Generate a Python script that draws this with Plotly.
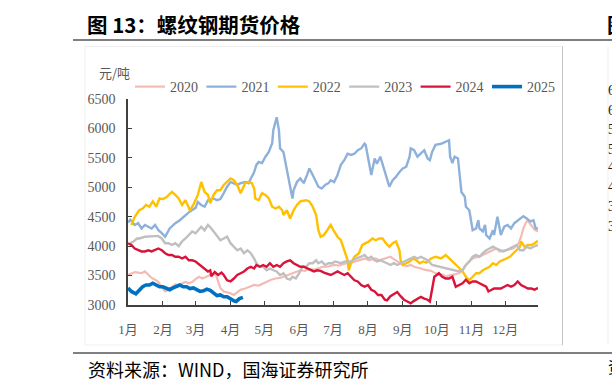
import plotly.graph_objects as go

# ---------------- data ----------------
month_starts = [0, 31, 60, 91, 121, 152, 182, 213, 244, 274, 305, 335]
month_labels = ["1月", "2月", "3月", "4月", "5月", "6月", "7月", "8月", "9月", "10月", "11月", "12月"]
y_ticks = [3000, 3500, 4000, 4500, 5000, 5500, 6000, 6500]

days_2020 = [0, 3, 6, 9, 12, 15, 18, 21, 24, 27,
             30, 33, 36, 39, 42, 45, 48, 51, 54, 57,
             60, 63, 66, 69, 72, 75, 78, 80, 82, 85,
             88, 91, 94, 97, 100, 104, 108, 112, 116, 120,
             124, 127, 131, 135, 139, 142, 146, 150, 153, 157,
             161, 165, 169, 173, 177, 180, 183, 187, 190, 194,
             198, 201, 204, 207, 211, 214, 217, 220, 223, 227,
             230, 233, 236, 239, 242, 245, 248, 251, 254, 257,
             260, 263, 266, 269, 272, 276, 279, 282, 285, 288,
             291, 294, 297, 300, 303, 306, 309, 312, 315, 318,
             321, 324, 327, 330, 333, 336, 339, 342, 345, 347,
             349, 351, 353, 355, 357, 359, 361, 364]
vals_2020 = [3510, 3530, 3560, 3550, 3540, 3570, 3520, 3460, 3430, 3390,
             3300, 3230, 3260, 3300, 3350, 3340, 3360, 3390, 3370, 3390,
             3440, 3480, 3450, 3470, 3500, 3530, 3510, 3400, 3290, 3230,
             3220, 3200, 3170, 3220, 3260, 3280, 3310, 3340, 3330, 3370,
             3400, 3430, 3450, 3460, 3490, 3510, 3530, 3560, 3590, 3580,
             3610, 3600, 3630, 3650, 3650, 3670, 3680, 3670, 3690, 3710,
             3720, 3740, 3750, 3770, 3790, 3760, 3780, 3790, 3760, 3780,
             3800, 3820, 3780, 3740, 3710, 3670, 3660, 3680, 3650, 3640,
             3620, 3600, 3590, 3580, 3550, 3510, 3520, 3480, 3500, 3510,
             3530, 3540, 3590, 3680, 3740, 3790, 3810, 3820, 3850, 3880,
             3900, 3930, 3960, 3910, 3920, 3940, 3950, 3960, 4010, 4050,
             4160, 4300, 4390, 4440, 4380, 4330, 4280, 4250]

days_2021 = [0, 2, 6, 9, 12, 15, 18, 21, 24, 27,
             30, 33, 37, 42, 46, 51, 55, 60, 62, 65,
             68, 71, 76, 79, 82, 85, 88, 91, 94, 97,
             100, 104, 107, 110, 112, 114, 116, 119, 122, 125,
             128, 129, 132, 134, 135, 138, 140, 143, 146, 147,
             150, 153, 156, 159, 161, 164, 167, 169, 172, 175,
             178, 180, 183, 186, 189, 192, 195, 198, 201, 204,
             207, 210, 211, 214, 216, 219, 221, 224, 227, 230,
             232, 235, 238, 241, 244, 247, 250, 251, 254, 257,
             260, 263, 266, 268, 270, 273, 278, 281, 285, 286,
             288, 290, 293, 294, 296, 299, 300, 303, 305, 306,
             309, 311, 312, 315, 317, 318, 321, 324, 325, 327,
             328, 331, 334, 337, 340, 343, 346, 351, 354, 357,
             360, 362, 364]
vals_2021 = [4400, 4450, 4360, 4390, 4300, 4360, 4330, 4300, 4360, 4270,
             4220, 4160, 4300, 4390, 4440, 4530, 4590, 4650, 4750, 4700,
             4670, 4780, 4810, 4780, 4800, 4900, 5010, 5090, 5070, 5040,
             5070, 5090, 5070, 5180, 5260, 5380, 5430, 5410, 5520, 5600,
             5750, 5970, 6190, 5970, 5660, 5600, 5410, 5090, 4810, 4950,
             5090, 5150, 5070, 5210, 5320, 5210, 5090, 5010, 4980, 5040,
             5070, 5120, 5090, 5210, 5380, 5460, 5570, 5550, 5570, 5630,
             5660, 5740, 5720, 5400, 5210, 5490, 5400, 5520, 5320, 5120,
             5010, 5120, 5180, 5260, 5320, 5350, 5520, 5660, 5630, 5520,
             5570, 5630, 5490, 5460, 5600, 5720, 5740, 5770, 5800, 5520,
             5410, 5520, 5490, 5290, 4920, 4840, 4670, 4610, 4390, 4270,
             4300, 4440, 4300, 4250, 4360, 4190, 4130, 4270, 4190, 4390,
             4500, 4190, 4330, 4360, 4300, 4390, 4440, 4510, 4470, 4420,
             4440, 4300, 4300]

days_2022 = [3, 6, 10, 13, 16, 19, 22, 25, 28, 31,
             34, 39, 42, 45, 48, 51, 55, 58, 62, 65,
             68, 71, 73, 76, 79, 82, 85, 88, 91, 94,
             97, 100, 101, 104, 107, 110, 112, 113, 116, 119,
             122, 125, 128, 131, 134, 137, 138, 141, 144, 147,
             150, 153, 158, 161, 164, 167, 169, 171, 174, 177,
             180, 183, 186, 189, 192, 195, 196, 198, 201, 205,
             208, 211, 214, 217, 220, 223, 226, 229, 232, 235,
             238, 241, 242, 244, 247, 250, 253, 256, 259, 262,
             265, 269, 273, 278, 282, 285, 288, 293, 297, 300,
             303, 306, 309, 312, 315, 318, 321, 324, 327, 330,
             333, 336, 339, 342, 345, 348, 349, 352, 355, 358,
             361, 364]
vals_2022 = [4360, 4500, 4610, 4640, 4700, 4670, 4760, 4670, 4810, 4800,
             4830, 4920, 4870, 4810, 4700, 4780, 4610, 4700, 4870, 5090,
             4920, 4870, 4730, 4870, 4950, 4950, 5040, 5090, 5150, 5120,
             5040, 4900, 4950, 5070, 5090, 5070, 4980, 4810, 4780, 4900,
             4870, 4810, 4670, 4640, 4670, 4610, 4530, 4610, 4470, 4610,
             4700, 4760, 4780, 4760, 4670, 4530, 4270, 4160, 4190, 4270,
             4360, 4250, 4160, 4100, 3930, 3760, 3590, 3710, 3820, 3880,
             4020, 4050, 4080, 4130, 4100, 4130, 4130, 4050, 3990, 4050,
             4080, 3930, 3760, 3680, 3710, 3740, 3790, 3760, 3710, 3740,
             3720, 3790, 3820, 3790, 3850, 3790, 3740, 3650, 3570, 3480,
             3420, 3480, 3540, 3540, 3590, 3620, 3650, 3710, 3680, 3740,
             3760, 3790, 3820, 3880, 3930, 3990, 4080, 3990, 4020, 4020,
             4050, 4090]

days_2023 = [2, 5, 8, 10, 15, 19, 24, 27, 30, 33,
             36, 39, 42, 45, 48, 51, 54, 57, 60, 62,
             65, 68, 71, 74, 77, 80, 82, 85, 88, 91,
             94, 97, 100, 103, 106, 109, 112, 114, 117, 120,
             123, 126, 129, 132, 135, 138, 141, 144, 146, 149,
             152, 155, 158, 161, 164, 167, 169, 172, 175, 178,
             181, 184, 189, 193, 198, 202, 207, 210, 213, 216,
             219, 221, 224, 227, 230, 233, 236, 239, 242, 245,
             248, 251, 254, 257, 260, 263, 266, 270, 276, 282,
             288, 294, 297, 300, 303, 306, 309, 312, 315, 318,
             321, 324, 327, 330, 333, 336, 339, 342, 345, 348,
             351, 354, 357, 360, 364]
vals_2023 = [4050, 4080, 4130, 4130, 4160, 4170, 4170, 4170, 4130, 4050,
             4050, 4020, 4050, 4000, 4080, 4130, 4190, 4250, 4220, 4270,
             4330, 4270, 4360, 4300, 4220, 4160, 4100, 4130, 4160, 4050,
             3990, 3930, 3960, 3880, 3930, 3880, 3790, 3710, 3650, 3650,
             3590, 3620, 3590, 3570, 3510, 3540, 3450, 3430, 3480, 3450,
             3540, 3650, 3650, 3710, 3710, 3760, 3710, 3740, 3680, 3710,
             3710, 3740, 3710, 3740, 3740, 3790, 3820, 3850, 3790, 3820,
             3760, 3740, 3760, 3740, 3710, 3680, 3710, 3680, 3710, 3740,
             3760, 3790, 3820, 3790, 3820, 3790, 3760, 3680, 3650, 3620,
             3590, 3570, 3590, 3680, 3740, 3820, 3850, 3820, 3880, 3930,
             3960, 3990, 3960, 3930, 3910, 3930, 3960, 3990, 4020, 3930,
             3930, 3990, 3960, 3990, 4020]

days_2024 = [0, 3, 6, 9, 12, 15, 18, 21, 24, 27,
             30, 33, 36, 39, 42, 45, 48, 51, 54, 57,
             60, 62, 65, 68, 71, 73, 74, 77, 80, 83,
             85, 88, 91, 94, 97, 100, 103, 106, 109, 112,
             114, 117, 120, 123, 126, 129, 132, 135, 138, 141,
             144, 147, 150, 153, 156, 159, 162, 165, 168, 171,
             174, 177, 180, 183, 186, 189, 192, 195, 198, 201,
             204, 207, 210, 213, 216, 219, 222, 225, 228, 230,
             233, 236, 239, 242, 245, 248, 251, 254, 257, 260,
             263, 266, 268, 270, 272, 274, 276, 279, 282, 285,
             288, 291, 294, 297, 300, 303, 306, 309, 312, 315,
             318, 320, 323, 325, 328, 331, 334, 337, 340, 343,
             346, 349, 352, 355, 358, 361, 364]
vals_2024 = [4050, 4020, 3960, 3930, 3910, 3910, 3930, 3910, 3930, 3960,
             3930, 3880, 3850, 3850, 3820, 3820, 3790, 3820, 3760, 3760,
             3740, 3710, 3650, 3620, 3570, 3590, 3490, 3560, 3510, 3550,
             3510, 3420, 3400, 3450, 3510, 3540, 3570, 3620, 3650, 3620,
             3680, 3650, 3680, 3650, 3710, 3650, 3680, 3650, 3710, 3740,
             3760, 3710, 3680, 3650, 3650, 3620, 3590, 3570, 3590, 3580,
             3550, 3530, 3510, 3540, 3570, 3540, 3510, 3540, 3480, 3420,
             3400, 3340, 3310, 3340, 3260, 3230, 3170, 3170, 3090, 3080,
             3150, 3180, 3220, 3150, 3090, 3060, 3030, 3070, 3110, 3140,
             3110, 3090, 3060, 3310, 3480, 3510, 3540, 3480, 3450, 3450,
             3480, 3310, 3340, 3370, 3430, 3370, 3400, 3400, 3370, 3340,
             3310, 3230, 3260, 3280, 3280, 3280, 3310, 3340, 3310, 3340,
             3400, 3340, 3310, 3280, 3280, 3260, 3290]

days_2025 = [0, 3, 7, 10, 13, 16, 19, 22, 25, 28,
             31, 34, 37, 40, 43, 46, 49, 52, 55, 58,
             61, 64, 67, 70, 73, 76, 79, 82, 85, 88,
             91, 94, 96, 99, 102]
vals_2025 = [3290, 3230, 3190, 3250, 3310, 3340, 3340, 3370, 3340, 3310,
             3310, 3280, 3260, 3290, 3320, 3340, 3310, 3310, 3280, 3290,
             3260, 3230, 3240, 3270, 3250, 3200, 3160, 3170, 3140, 3140,
             3100, 3070, 3060, 3110, 3130]

series_names = ["2020", "2021", "2022", "2023", "2024", "2025"]
series_days = [days_2020, days_2021, days_2022, days_2023, days_2024, days_2025]
series_vals = [vals_2020, vals_2021, vals_2022, vals_2023, vals_2024, vals_2025]

title_text = "图 13：螺纹钢期货价格"
unit_text = "元/吨"
source_text = "资料来源：WIND，国海证券研究所"
neighbor_labels = ["6500", "6000", "5500", "5000", "4500", "4000", "3500", "3000"]

# ---------------- style ----------------
colors = ["#F4BBB5", "#8EB1DB", "#FFC000", "#BFBFBF", "#D9143A", "#0070C0"]
widths = [2.2, 2.4, 2.4, 2.4, 2.4, 3.6]

W, H = 612, 392
L, R, T, B = 128, 74, 99, 87
PW, PH = W - L - R, H - T - B


def fx(p):
    return (p - L) / PW


def fy(p):
    return (H - B - p) / PH


SERIF = "Liberation Serif, 'Noto Sans CJK SC', serif"
CJK = "'Noto Sans CJK SC', sans-serif"
GRAY = "#595959"

fig = go.Figure()
legend_keys = ["legend", "legend2", "legend3", "legend4", "legend5", "legend6"]
for i, (name, d, v, c, w) in enumerate(zip(series_names, series_days, series_vals, colors, widths)):
    fig.add_trace(go.Scatter(x=d, y=v, mode="lines", name=name, legend=legend_keys[i],
                             line=dict(color=c, width=w), hoverinfo="skip"))

legend_style = dict(orientation="h", xanchor="left", yanchor="middle",
                    font=dict(family=SERIF, size=14, color=GRAY),
                    bgcolor="rgba(0,0,0,0)", borderwidth=0, itemwidth=30)
legend_layout = {}
for i, key in enumerate(legend_keys):
    legend_layout[key] = dict(x=fx(130 + 71.4 * i), y=fy(87), **legend_style)

axis_common = dict(showgrid=False, zeroline=False, showline=True,
                   linecolor="#404040", linewidth=1.5,
                   ticks="inside", ticklen=4, tickwidth=1.3, tickcolor="#404040",
                   fixedrange=True)

fig.update_layout(
    width=W, height=H,
    margin=dict(l=L, r=R, t=T, b=B, pad=0),
    paper_bgcolor="white", plot_bgcolor="white",
    showlegend=True,
    xaxis=dict(range=[0, 364], tickmode="array", tickvals=month_starts, ticktext=month_labels,
               tickfont=dict(family=SERIF, size=13, color=GRAY), ticklabelstandoff=12,
               **axis_common),
    yaxis=dict(range=[3000, 6500], tickmode="array", tickvals=y_ticks,
               tickfont=dict(family=SERIF, size=14, color=GRAY), ticklabelstandoff=8,
               **axis_common),
    **legend_layout,
)

shapes = []
shapes.append(dict(type="rect", xref="paper", yref="paper",
                   x0=fx(85), x1=fx(562.5), y0=fy(345), y1=fy(46.5),
                   line=dict(color="#EFEFEF", width=1), layer="below"))
shapes.append(dict(type="line", xref="paper", yref="paper",
                   x0=fx(562.5), x1=fx(562.5), y0=fy(345), y1=fy(46.5),
                   line=dict(color="#C4C4C4", width=1)))
shapes.append(dict(type="line", xref="paper", yref="paper",
                   x0=fx(608), x1=fx(608), y0=fy(345), y1=fy(46.5),
                   line=dict(color="#EFEFEF", width=1)))
shapes.append(dict(type="line", xref="paper", yref="paper",
                   x0=fx(73), x1=fx(615), y0=fy(40), y1=fy(40),
                   line=dict(color="#7F7F7F", width=2)))
shapes.append(dict(type="line", xref="paper", yref="paper",
                   x0=fx(73), x1=fx(615), y0=fy(353), y1=fy(353),
                   line=dict(color="#7F7F7F", width=2)))
fig.update_layout(shapes=shapes)

ann = []
ann.append(dict(text="<b>" + title_text + "</b>", xref="paper", yref="paper",
                x=fx(85), y=fy(24), xanchor="left", yanchor="middle", showarrow=False,
                font=dict(family=CJK, size=20.5, color="#000000")))
ann.append(dict(text=unit_text, xref="paper", yref="paper",
                x=fx(114), y=fy(72), xanchor="center", yanchor="middle", showarrow=False,
                font=dict(family=CJK, size=13, color=GRAY)))
ann.append(dict(text=source_text, xref="paper", yref="paper",
                x=fx(86), y=fy(369), xanchor="left", yanchor="middle", showarrow=False,
                font=dict(family=CJK, size=18, color="#000000")))
# fragments of the neighbouring chart, clipped by the page edge as in the reference
ann.append(dict(text="<b>图</b>", xref="paper", yref="paper",
                x=fx(605), y=fy(24), xanchor="left", yanchor="middle", showarrow=False,
                font=dict(family=CJK, size=20.5, color="#000000")))
neighbor_y = [90, 110, 129, 149, 166, 186, 206, 226]
for t, yy in zip(neighbor_labels, neighbor_y):
    ann.append(dict(text=t, xref="paper", yref="paper",
                    x=fx(606), y=fy(yy), xanchor="left", yanchor="middle", showarrow=False,
                    font=dict(family=SERIF, size=14, color="#222222")))
ann.append(dict(text="资料", xref="paper", yref="paper",
                x=fx(606), y=fy(366), xanchor="left", yanchor="middle", showarrow=False,
                font=dict(family=CJK, size=16, color="#000000")))
fig.update_layout(annotations=ann)

fig.write_html("out.html", config={"displayModeBar": False},
               post_script="document.body.style.margin='0px';document.body.style.overflow='hidden';")
